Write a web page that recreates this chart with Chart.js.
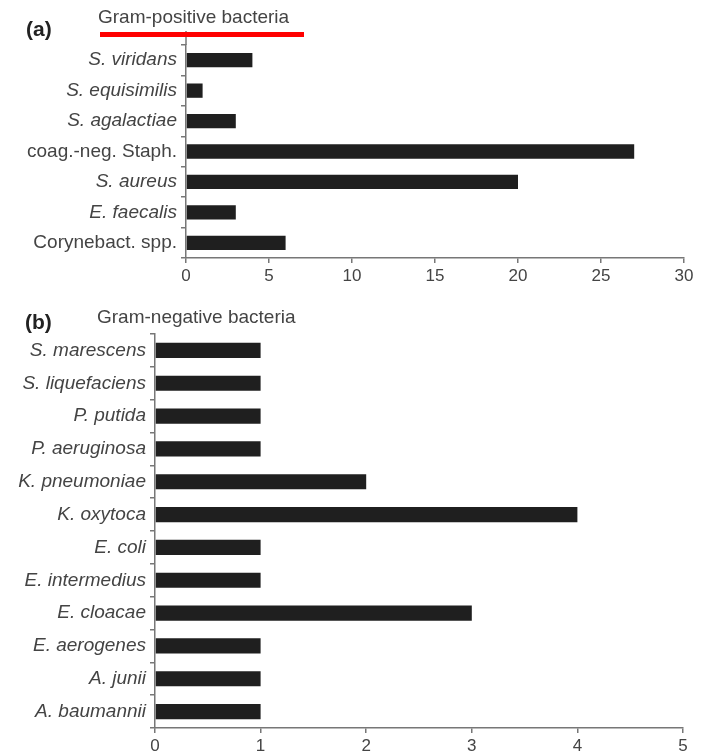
<!DOCTYPE html>
<html>
<head>
<meta charset="utf-8">
<script src="https://cdn.jsdelivr.net/npm/chart.js@4/dist/chart.umd.min.js"></script>
<style>
  body { margin: 0; background: #fff; width: 715px; height: 754px; position: relative; overflow: hidden; font-family: "Liberation Sans", Arial, sans-serif; }
  .box { position: absolute; left: 0; width: 715px; }
  .panel { position: absolute; font-weight: bold; font-size: 21px; color: #222; }
  .ttl { position: absolute; font-size: 19px; color: #444; white-space: nowrap; }
  #redline { position: absolute; left: 100px; top: 32px; width: 204px; height: 5px; background: #ff0000; z-index: 2; }
</style>
</head>
<body>
<div class="box" style="top:0;height:300px"><canvas id="chartA"></canvas></div>
<div class="box" style="top:300px;height:454px"><canvas id="chartB"></canvas></div>
<div class="panel" style="left:26px;top:17px">(a)</div>
<div class="ttl" style="left:98px;top:6px">Gram-positive bacteria</div>
<div id="redline"></div>
<div class="panel" style="left:25px;top:310px">(b)</div>
<div class="ttl" style="left:97px;top:306px">Gram-negative bacteria</div>
<script>
// datos
const posLabels = ['S. viridans', 'S. equisimilis', 'S. agalactiae', 'coag.-neg. Staph.', 'S. aureus', 'E. faecalis', 'Corynebact. spp.'];
const posValues = [4, 1, 3, 27, 20, 3, 6];
const posItalic = [true, true, true, false, true, true, false];
const posTicks = [0, 5, 10, 15, 20, 25, 30];

const negLabels = ['S. marescens', 'S. liquefaciens', 'P. putida', 'P. aeruginosa', 'K. pneumoniae', 'K. oxytoca', 'E. coli', 'E. intermedius', 'E. cloacae', 'E. aerogenes', 'A. junii', 'A. baumannii'];
const negValues = [1, 1, 1, 1, 2, 4, 1, 1, 3, 1, 1, 1];
const negTicks = [0, 1, 2, 3, 4, 5];

const FAM = '"Liberation Sans", Arial, sans-serif';
const AXIS = '#777';

// prolonga el eje vertical por encima del área (panel a)
const axisExtend = {
    id: 'axisExtend',
    afterDraw(chart, args, opts) {
        if (!opts.len) return;
        const ctx = chart.ctx, x = chart.scales.y.left + chart.scales.y.width;
        ctx.save();
        ctx.strokeStyle = AXIS; ctx.lineWidth = 1.5;
        ctx.beginPath();
        ctx.moveTo(x, chart.chartArea.top - opts.len);
        ctx.lineTo(x, chart.chartArea.top);
        ctx.stroke();
        ctx.restore();
    }
};

function makeChart(id, labels, values, italic, ticks, xmax, pad, yWidth, xHeight, barPct, ext) {
    return new Chart(document.getElementById(id), {
        type: 'bar',
        data: { labels, datasets: [{ data: values, backgroundColor: '#1f1f1f', borderWidth: 0, barPercentage: barPct, categoryPercentage: 1 }] },
        options: {
            indexAxis: 'y',
            responsive: true,
            maintainAspectRatio: false,
            animation: false,
            layout: { padding: pad },
            plugins: { legend: { display: false }, tooltip: { enabled: false }, axisExtend: { len: ext } },
            scales: {
                x: {
                    min: 0, max: xmax,
                    afterBuildTicks: s => { s.ticks = ticks.map(v => ({ value: v })); },
                    afterFit: s => { s.height = xHeight; },
                    grid: { drawOnChartArea: false, drawTicks: true, tickLength: 5, color: AXIS, lineWidth: 1.5 },
                    border: { display: true, color: AXIS, width: 1.5 },
                    ticks: { color: '#444', font: { family: FAM, size: 17 }, padding: 3, maxRotation: 0 }
                },
                y: {
                    afterFit: s => { s.width = yWidth; },
                    grid: { drawOnChartArea: false, drawTicks: true, tickLength: 5, color: AXIS, lineWidth: 1.5, offset: true },
                    border: { display: true, color: AXIS, width: 1.5 },
                    ticks: {
                        color: '#444', padding: 4,
                        font: c => ({ family: FAM, size: 19, style: (italic ? italic[c.index] : true) ? 'italic' : 'normal' })
                    }
                }
            }
        },
        plugins: [axisExtend]
    });
}

makeChart('chartA', posLabels, posValues, posItalic, posTicks, 30, { top: 45, right: 31, left: 0, bottom: 0 }, 186, 42, 0.47, 14);
makeChart('chartB', negLabels, negValues, null, negTicks, 5, { top: 34, right: 32, left: 0, bottom: 0 }, 155, 26, 0.46, 0);
</script>
</body>
</html>
